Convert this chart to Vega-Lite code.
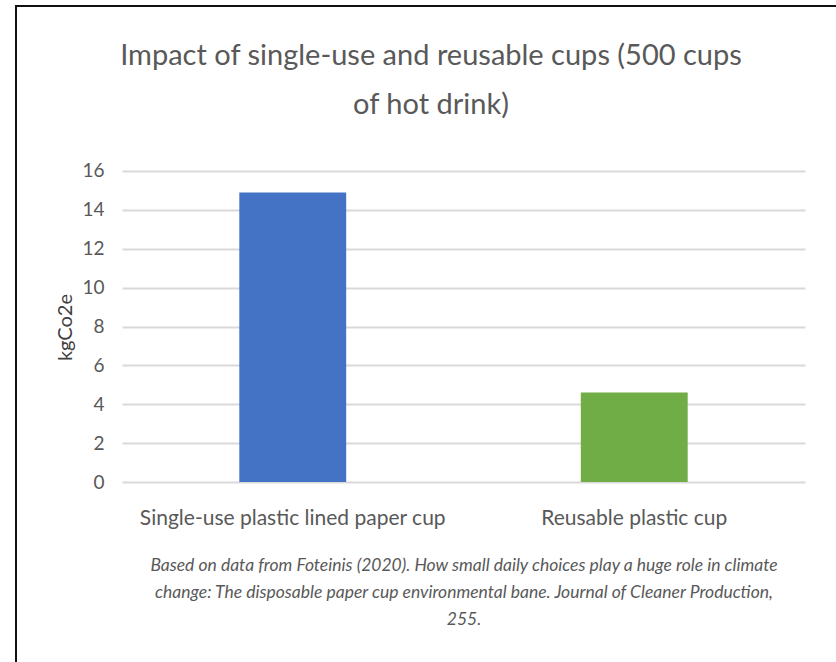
{
  "$schema": "https://vega.github.io/schema/vega-lite/v6.json",
  "autosize": {"type": "none"},
  "width": 830,
  "height": 670,
  "padding": {"left": 16, "top": 6, "right": -10, "bottom": -14},
  "background": "white",
  "config": {
    "font": "Lato",
    "view": {"stroke": "#111111", "strokeWidth": 2},
    "axis": {"labelFont": "Lato", "titleFont": "Lato"},
    "title": {"font": "Lato"}
  },
  "title": {
    "text": ["Impact of single-use and reusable cups (500 cups", "of hot drink)"],
    "fontSize": 29,
    "fontWeight": "normal",
    "color": "#595959",
    "lineHeight": 49,
    "anchor": "middle",
    "offset": -114
  },
  "data": {
    "values": [
      {"cup": "Single-use plastic lined paper cup", "kgCo2e": 14.9},
      {"cup": "Reusable plastic cup", "kgCo2e": 4.6}
    ]
  },
  "mark": {"type": "bar"},
  "encoding": {
    "x": {
      "field": "cup",
      "type": "nominal",
      "sort": null,
      "scale": {"range": [106, 789], "paddingInner": 0.687, "paddingOuter": 0.3435},
      "axis": {
        "orient": "bottom",
        "offset": -194,
        "domain": false,
        "ticks": false,
        "tickSize": 0,
        "grid": false,
        "labelAngle": 0,
        "labelLimit": 0,
        "labelFontSize": 21,
        "labelColor": "#595959",
        "labelPadding": 25,
        "title": ["Based on data from Foteinis (2020). How small daily choices play a huge role in climate", "change: The disposable paper cup environmental bane. Journal of Cleaner Production,", "255."],
        "titleFontSize": 17.5,
        "titleFontStyle": "italic",
        "titleFontWeight": "normal",
        "titleColor": "#595959",
        "titleLineHeight": 27,
        "titlePadding": 28
      }
    },
    "y": {
      "field": "kgCo2e",
      "type": "quantitative",
      "scale": {"domain": [-9.979, 24.488], "nice": false, "zero": false},
      "axis": {
        "offset": -94,
        "values": [0, 2, 4, 6, 8, 10, 12, 14, 16],
        "domain": false,
        "ticks": false,
        "grid": true,
        "gridColor": "#d9d9d9",
        "gridWidth": 2,
        "labelFontSize": 19,
        "labelColor": "#595959",
        "labelPadding": 6,
        "title": "kgCo2e",
        "titleFontSize": 20,
        "titleFontWeight": "normal",
        "titleColor": "#404040",
        "titleX": -45,
        "titleY": 321,
        "titleAngle": -90,
        "titleAlign": "center",
        "titleBaseline": "middle"
      }
    },
    "color": {
      "field": "cup",
      "type": "nominal",
      "scale": {"domain": ["Single-use plastic lined paper cup", "Reusable plastic cup"], "range": ["#4472C4", "#70AD47"]},
      "legend": null
    }
  }
}
